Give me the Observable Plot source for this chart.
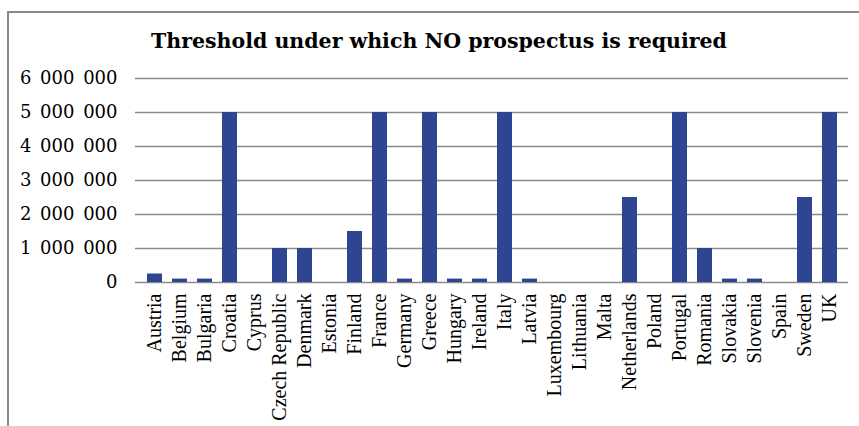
<!DOCTYPE html>
<html>
<head>
<meta charset="utf-8">
<script src="https://cdn.jsdelivr.net/npm/d3@7"></script>
<script src="https://cdn.jsdelivr.net/npm/@observablehq/plot@0.6"></script>
<style>
  html, body { margin: 0; padding: 0; background: #fff; width: 859px; height: 426px; overflow: hidden; }
  #frame { position: absolute; left: 7px; top: 11px; width: 900px; height: 500px; border: 2px solid #8a8a8a; box-sizing: border-box; }
  #title { position: absolute; left: 0; width: 878px; top: 29px; text-align: center; font-family: "DejaVu Serif", Georgia, serif; font-weight: bold; font-size: 20.5px; color: #000; }
  #chart { position: absolute; left: 0; top: 60px; }
  #chart g[aria-label="y-axis tick label"] text { font-family: "DejaVu Serif", Georgia, serif; font-size: 18px; word-spacing: 3px; }
  #chart g[aria-label="x-axis tick label"] text { font-family: "Liberation Serif", "Times New Roman", serif; font-size: 20px; }
</style>
</head>
<body>
<div id="frame"></div>
<div id="title">Threshold under which NO prospectus is required</div>
<div id="chart"></div>
<script>
const countries = ["Austria","Belgium","Bulgaria","Croatia","Cyprus","Czech Republic","Denmark","Estonia","Finland","France","Germany","Greece","Hungary","Ireland","Italy","Latvia","Luxembourg","Lithuania","Malta","Netherlands","Poland","Portugal","Romania","Slovakia","Slovenia","Spain","Sweden","UK"];
const thresholds = [250000,100000,100000,5000000,0,1000000,1000000,0,1500000,5000000,100000,5000000,100000,100000,5000000,100000,0,0,0,2500000,0,5000000,1000000,100000,100000,0,2500000,5000000];
const yTicks = [0,1000000,2000000,3000000,4000000,5000000,6000000];

const data = countries.map((c, i) => ({country: c, value: thresholds[i]}));
const fmt = v => d3.format(",")(v).replace(/,/g, " ");

const plot = Plot.plot({
  width: 859,
  height: 366,
  marginTop: 18,
  marginBottom: 144,
  marginLeft: 135,
  marginRight: 11,
  style: {background: "transparent", color: "#000"},
  x: {domain: countries, padding: 0.4, label: null},
  y: {domain: [0, 6000000], label: null},
  marks: [
    Plot.ruleY(yTicks, {stroke: "#8a8a8a", strokeWidth: 1.3}),
    Plot.barY(data, {x: "country", y: "value", fill: "#2e4592"}),
    Plot.axisY({ticks: yTicks, tickFormat: fmt, tickSize: 0, tickPadding: 18, label: null}),
    Plot.axisX({tickSize: 0, tickRotate: -90, tickPadding: 11, label: null})
  ]
});
document.getElementById("chart").appendChild(plot);
</script>
</body>
</html>
